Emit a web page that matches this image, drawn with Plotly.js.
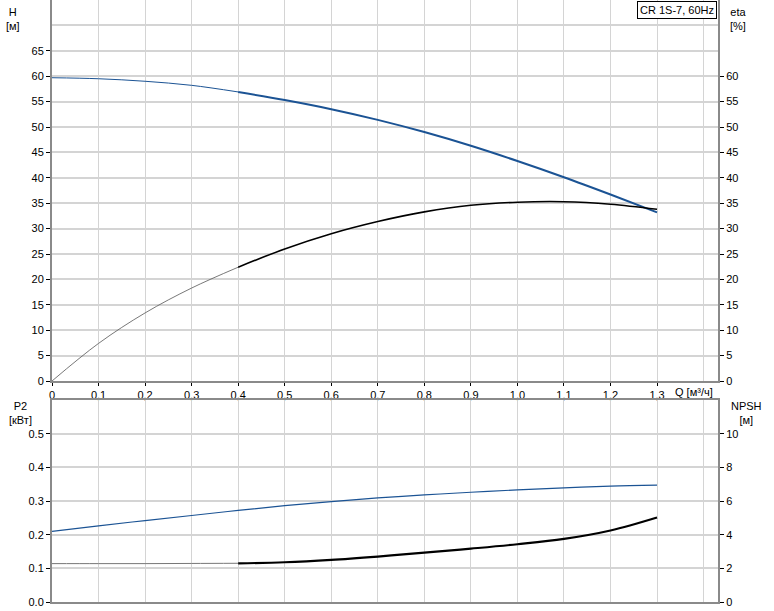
<!DOCTYPE html>
<html>
<head>
<meta charset="utf-8">
<script src="https://cdn.plot.ly/plotly-3.0.1.min.js"></script>
<style>html,body{margin:0;padding:0;background:#fff;}#chart{width:774px;height:611px;}</style>
</head>
<body>
<div id="chart"></div>
<script>
// Flow rate Q [m3/h]
const Q = [0, 0.1, 0.2, 0.3, 0.4, 0.5, 0.6, 0.7, 0.8, 0.9, 1.0, 1.1, 1.2, 1.3];
// Head H [m]
const H = [59.7, 59.5, 59.0, 58.2, 56.9, 55.3, 53.5, 51.4, 49.0, 46.3, 43.3, 40.1, 36.7, 33.2];
// Efficiency eta [%]
const ETA = [0, 7.4, 13.4, 18.3, 22.4, 26.0, 29.0, 31.4, 33.3, 34.6, 35.2, 35.3, 34.8, 33.8];
// Power P2 [kW]
const P2 = [0.210, 0.226, 0.242, 0.257, 0.272, 0.286, 0.298, 0.309, 0.318, 0.326, 0.333, 0.339, 0.344, 0.347];
// NPSH [m]
const NPSH = [2.28, 2.28, 2.28, 2.29, 2.30, 2.36, 2.50, 2.70, 2.93, 3.17, 3.43, 3.75, 4.25, 5.02];
// x tick labels
const xTickVals = [0, 0.1, 0.2, 0.3, 0.4, 0.5, 0.6, 0.7, 0.8, 0.9, 1.0, 1.1, 1.2, 1.3];
const xTickText = ["0", "0,1", "0,2", "0,3", "0,4", "0,5", "0,6", "0,7", "0,8", "0,9", "1,0", "1,1", "1,2", "1,3"];

const iSplit = 4; // Q = 0.4
const blue = "#1b5394";
const black = "#000000";

function seg(y, from, to) { return { x: Q.slice(from, to + 1), y: y.slice(from, to + 1) }; }
function tr(y, from, to, xa, ya, color, width) {
  const s = seg(y, from, to);
  return { x: s.x, y: s.y, xaxis: xa, yaxis: ya, type: "scatter", mode: "lines",
           line: { color: color, width: width, shape: "spline" }, hoverinfo: "skip", showlegend: false };
}
const last = Q.length - 1;
const data = [
  tr(H, 0, iSplit, "x", "y", blue, 1),
  tr(H, iSplit, last, "x", "y", blue, 2),
  tr(ETA, 0, iSplit, "x", "y2", "#555555", 0.8),
  tr(ETA, iSplit, last, "x", "y2", black, 1.6),
  tr(P2, 0, last, "x2", "y3", blue, 1.2),
  tr(NPSH, 0, iSplit, "x2", "y4", "#777777", 1),
  tr(NPSH, iSplit, last, "x2", "y4", black, 2.2)
];

const font = { family: "Liberation Sans, Arial, sans-serif", size: 11, color: "#000" };
const gridC = "#d4d4d4";
const axC = "#8a8a8a";
const xBase = {
  range: [0, 1.431], tickvals: xTickVals, ticktext: xTickText,
  showgrid: true, gridcolor: gridC, gridwidth: 1, zeroline: false,
  showline: true, linecolor: axC, linewidth: 2, ticks: "outside", ticklen: 3, tickcolor: "#000",
  tickfont: font, fixedrange: true
};
xBase.minor = { tickvals: [1.4], showgrid: true, gridcolor: gridC, gridwidth: 1, ticks: "" };

const topDomain = [(602 - 381) / 602, 1];
const botDomain = [0, (602 - 400) / 602];

const layout = {
  width: 774, height: 611,
  margin: { l: 52, r: 56, t: 0, b: 9 },
  paper_bgcolor: "#fff", plot_bgcolor: "#fff",
  font: font,
  showlegend: false,
  xaxis: Object.assign({}, xBase, { anchor: "y", domain: [0, 1] }),
  xaxis2: Object.assign({}, xBase, { anchor: "y3", domain: [0, 1], matches: "x", showticklabels: false, ticks: "", mirror: true }),
  yaxis: {
    domain: topDomain, range: [0, 75], tickvals: [0,5,10,15,20,25,30,35,40,45,50,55,60,65],
    minor: { tickvals: [70], showgrid: true, gridcolor: gridC, gridwidth: 2, ticks: "" },
    showgrid: true, gridcolor: gridC, gridwidth: 2, zeroline: false,
    showline: true, linecolor: axC, linewidth: 2, ticks: "outside", ticklen: 4, tickcolor: "#000",
    tickfont: font, fixedrange: true
  },
  yaxis2: {
    domain: topDomain, range: [0, 75], overlaying: "y", side: "right", anchor: "x",
    tickvals: [0,5,10,15,20,25,30,35,40,45,50,55,60],
    showgrid: false, zeroline: false,
    showline: true, linecolor: axC, linewidth: 2, ticks: "outside", ticklen: 4, tickcolor: "#000",
    tickfont: font, fixedrange: true
  },
  yaxis3: {
    domain: botDomain, range: [0, 0.6], anchor: "x2", tickvals: [0, 0.1, 0.2, 0.3, 0.4, 0.5],
    ticktext: ["0.0", "0.1", "0.2", "0.3", "0.4", "0.5"],
    showgrid: true, gridcolor: gridC, gridwidth: 2, zeroline: false,
    showline: true, linecolor: axC, linewidth: 2, ticks: "outside", ticklen: 4, tickcolor: "#000",
    tickfont: font, fixedrange: true
  },
  yaxis4: {
    domain: botDomain, range: [0, 12], overlaying: "y3", side: "right", anchor: "x2",
    tickvals: [0, 2, 4, 6, 8, 10],
    showgrid: false, zeroline: false,
    showline: true, linecolor: axC, linewidth: 2, ticks: "outside", ticklen: 4, tickcolor: "#000",
    tickfont: font, fixedrange: true
  },
  annotations: [
    { text: "H<br>[м]", xref: "paper", yref: "paper", x: -0.059, y: 1.0, yshift: -4, xanchor: "center", yanchor: "top", showarrow: false, font: font, align: "center" },
    { text: "eta<br>[%]", xref: "paper", yref: "paper", x: 1.03, y: 1.0, yshift: -4, xanchor: "center", yanchor: "top", showarrow: false, font: font, align: "center" },
    { text: "P2<br>[кВт]", xref: "paper", yref: "paper", x: -0.047, y: botDomain[1], yshift: 2, xanchor: "center", yanchor: "top", showarrow: false, font: font, align: "center" },
    { text: "NPSH<br>[м]", xref: "paper", yref: "paper", x: 1.043, y: botDomain[1], yshift: 2, xanchor: "center", yanchor: "top", showarrow: false, font: font, align: "center" },
    { text: "Q [м³/ч]", xref: "paper", yref: "paper", x: 0.996, y: topDomain[0], xanchor: "right", yanchor: "top", yshift: -3, showarrow: false, font: font },
    { text: "CR 1S-7, 60Hz", xref: "paper", yref: "paper", x: 0.998, y: 0.998, xanchor: "right", yanchor: "top", showarrow: false, font: font,
      bordercolor: "#000", borderwidth: 1, borderpad: 2, bgcolor: "#fff" }
  ]
};

Plotly.newPlot("chart", data, layout, { staticPlot: true, displayModeBar: false });
</script>
</body>
</html>
